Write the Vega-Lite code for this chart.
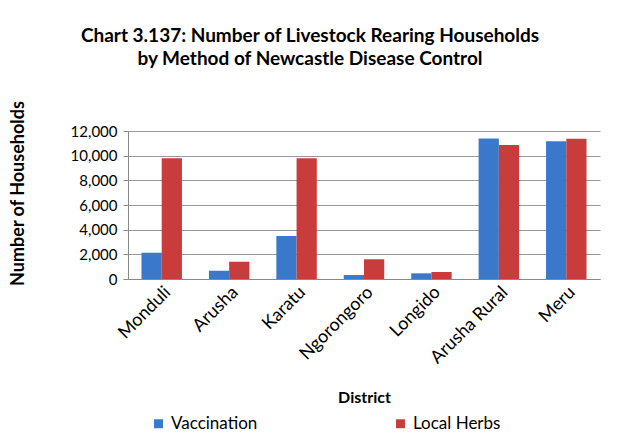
{
  "$schema": "https://vega.github.io/schema/vega-lite/v6.json",
  "width": 472,
  "height": 148,
  "autosize": {"type": "none"},
  "padding": {"left": 128, "top": 131, "right": 20, "bottom": 160},
  "background": "white",
  "title": {
    "text": ["Chart 3.137: Number of Livestock Rearing Households", "by Method of Newcastle Disease Control"],
    "font": "Lato",
    "fontSize": 19,
    "fontWeight": "bold",
    "color": "#000000",
    "anchor": "middle",
    "frame": "group",
    "dx": -54,
    "offset": 31,
    "lineHeight": 23
  },
  "data": {
    "values": [
      {"district": "Monduli", "method": "Vaccination", "households": 2130},
      {"district": "Monduli", "method": "Local Herbs", "households": 9800},
      {"district": "Arusha", "method": "Vaccination", "households": 670},
      {"district": "Arusha", "method": "Local Herbs", "households": 1400},
      {"district": "Karatu", "method": "Vaccination", "households": 3490},
      {"district": "Karatu", "method": "Local Herbs", "households": 9800},
      {"district": "Ngorongoro", "method": "Vaccination", "households": 320},
      {"district": "Ngorongoro", "method": "Local Herbs", "households": 1600},
      {"district": "Longido", "method": "Vaccination", "households": 460},
      {"district": "Longido", "method": "Local Herbs", "households": 570},
      {"district": "Arusha Rural", "method": "Vaccination", "households": 11400},
      {"district": "Arusha Rural", "method": "Local Herbs", "households": 10870},
      {"district": "Meru", "method": "Vaccination", "households": 11170},
      {"district": "Meru", "method": "Local Herbs", "households": 11380}
    ]
  },
  "mark": {"type": "bar"},
  "encoding": {
    "x": {
      "field": "district",
      "type": "nominal",
      "sort": null,
      "scale": {"paddingInner": 0.4, "paddingOuter": 0.2},
      "axis": {
        "title": "District",
        "titleFont": "Lato",
        "titleFontSize": 16,
        "titleFontWeight": "bold",
        "titleColor": "#000000",
        "titlePadding": 23,
        "labelAngle": -45,
        "labelFont": "Lato",
        "labelFontSize": 18,
        "labelColor": "#000000",
        "labelPadding": 4,
        "ticks": false,
        "domain": true,
        "domainColor": "#888888"
      }
    },
    "xOffset": {"field": "method", "type": "nominal", "sort": ["Vaccination", "Local Herbs"]},
    "y": {
      "field": "households",
      "type": "quantitative",
      "scale": {"domain": [0, 12000]},
      "axis": {
        "title": "Number of Households",
        "titleFont": "Lato",
        "titleFontSize": 18,
        "titleFontWeight": "bold",
        "titleColor": "#000000",
        "titlePadding": 43,
        "titleY": 62,
        "values": [0, 2000, 4000, 6000, 8000, 10000, 12000],
        "format": ",.0f",
        "labelFont": "Lato",
        "labelFontSize": 15,
        "labelColor": "#000000",
        "labelPadding": 6,
        "tickSize": 5,
        "tickColor": "#888888",
        "domain": true,
        "domainColor": "#888888",
        "grid": true,
        "gridColor": "#999999"
      }
    },
    "color": {
      "field": "method",
      "type": "nominal",
      "sort": ["Vaccination", "Local Herbs"],
      "scale": {"domain": ["Vaccination", "Local Herbs"], "range": ["#3a78cc", "#c93c3c"]},
      "legend": {
        "title": null,
        "orient": "none",
        "legendX": 22,
        "legendY": 284,
        "direction": "horizontal",
        "symbolType": "square",
        "symbolSize": 80,
        "symbolStrokeWidth": 0,
        "labelFont": "Lato",
        "labelFontSize": 17,
        "labelColor": "#000000",
        "columnPadding": 134
      }
    }
  },
  "config": {"view": {"stroke": null}}
}
